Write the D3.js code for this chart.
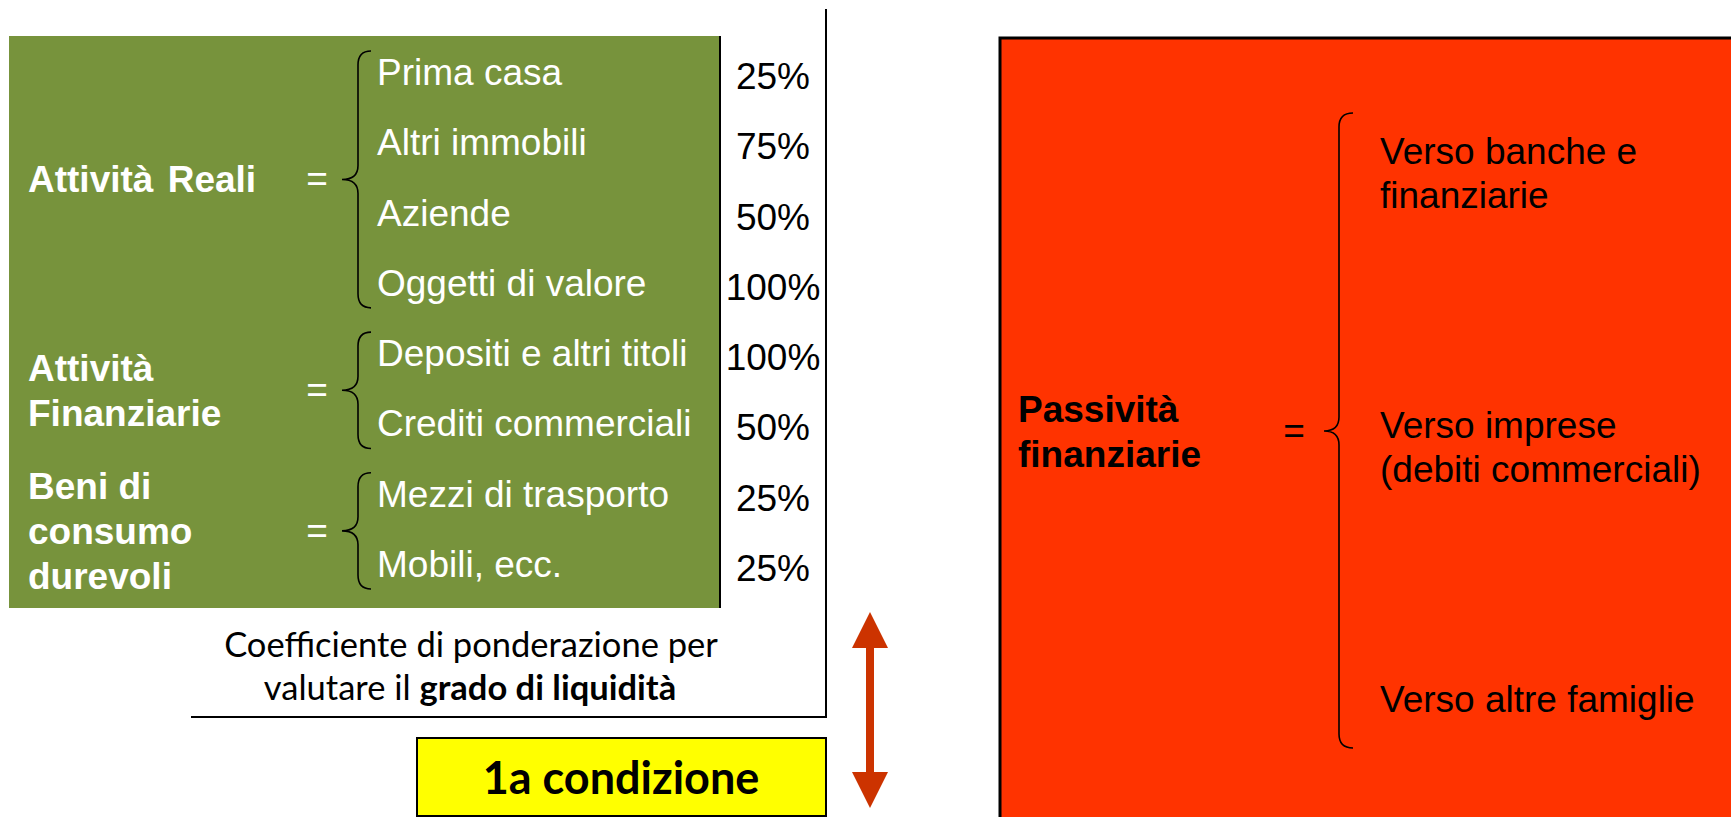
<!DOCTYPE html>
<html>
<head>
<meta charset="utf-8">
<script src="https://cdn.jsdelivr.net/npm/d3@7"></script>
<style>
	html, body { margin: 0; padding: 0; background: #fff; }
	svg { display: block; }
</style>
</head>
<body>
<svg id="chart" width="1731" height="817"></svg>
<script>
// voci dell'attivo e coefficienti di liquidità
var gruppi = [
	["Attività Reali"],
	["Attività", "Finanziarie"],
	["Beni di", "consumo", "durevoli"]
];
var voci = ["Prima casa", "Altri immobili", "Aziende", "Oggetti di valore",
	"Depositi e altri titoli", "Crediti commerciali",
	"Mezzi di trasporto", "Mobili, ecc."];
var gruppoVoce = [0, 0, 0, 0, 1, 1, 2, 2];
var coefficienti = [25, 75, 50, 100, 100, 50, 25, 25];

// passività
var passivita = ["Passività", "finanziarie"];
var vociPassivo = [
	["Verso banche e", "finanziarie"],
	["Verso imprese", "(debiti commerciali)"],
	["Verso altre famiglie"]
];

var nota1 = "Coefficiente di ponderazione per";
var nota2 = ["valutare il ", "grado di liquidità"];
var condizione = "1a condizione";

var svg = d3.select("#chart");
var arial = "'Liberation Sans', Arial, sans-serif";
var calibri = "Lato, 'Open Sans', sans-serif";

var y = d3.scalePoint().domain(voci).range([85, 577]);
var yP = d3.scalePoint().domain(d3.range(vociPassivo.length)).range([164, 712]);
var pct = d3.format(".0%");

function brace(x, y0, ym, y1, wTip, wMid) {
	var r = 14;
	var p = d3.path();
	p.moveTo(x + wTip, y0);
	p.quadraticCurveTo(x, y0, x, y0 + r);
	p.lineTo(x, ym - r);
	p.quadraticCurveTo(x, ym, x - wMid, ym);
	p.quadraticCurveTo(x, ym, x, ym + r);
	p.lineTo(x, y1 - r);
	p.quadraticCurveTo(x, y1, x + wTip, y1);
	return p.toString();
}

// riquadro verde
svg.append("rect")
	.attr("x", 9).attr("y", 36)
	.attr("width", 711).attr("height", 572)
	.attr("fill", "#77933C");
svg.append("line")
	.attr("x1", 720).attr("x2", 720).attr("y1", 36).attr("y2", 608)
	.attr("stroke", "#000").attr("stroke-width", 2);

// cornice dei coefficienti
svg.append("path")
	.attr("d", "M826,9 L826,717 L191,717")
	.attr("fill", "none").attr("stroke", "#000").attr("stroke-width", 2);

svg.append("g").selectAll("g")
	.data(gruppi)
	.enter()
	.append("g")
	.each(function(d, i) {
		var rows = voci.filter(function(v, j) { return gruppoVoce[j] == i; });
		var top = y(rows[0]) - 34;
		var bottom = y(rows[rows.length - 1]) + 12;
		var mid = (top + bottom) / 2;
		var g = d3.select(this);
		g.append("path")
			.attr("d", brace(358, top, mid, bottom, 13, 16))
			.attr("fill", "none").attr("stroke", "#000").attr("stroke-width", 1.6);
		g.append("text")
			.attr("x", 317).attr("y", mid + 12)
			.attr("text-anchor", "middle")
			.attr("fill", "#fff")
			.style("font", "37px " + arial)
			.text("=");
		var first = mid + 13 - (d.length - 1) * 45 / 2;
		g.append("text")
			.attr("fill", "#fff")
			.style("font", "bold 37px " + arial)
			.style("word-spacing", d.length == 1 ? "4px" : "0px")
			.selectAll("tspan")
			.data(d)
			.enter()
			.append("tspan")
			.attr("x", 28)
			.attr("y", function(t, k) { return first + k * 45; })
			.text(function(t) { return t; });
	});

svg.append("g").selectAll("text")
	.data(voci)
	.enter()
	.append("text")
	.attr("x", 377)
	.attr("y", function(d) { return y(d); })
	.attr("fill", "#fff")
	.style("font", "37px " + arial)
	.text(function(d) { return d; });

svg.append("g").selectAll("text")
	.data(coefficienti)
	.enter()
	.append("text")
	.attr("x", 773)
	.attr("y", function(d, i) { return y(voci[i]) + 4; })
	.attr("text-anchor", "middle")
	.attr("fill", "#000")
	.style("font", "37px " + arial)
	.text(function(d) { return pct(d / 100); });

// nota
svg.append("text")
	.attr("x", 471).attr("y", 657)
	.attr("text-anchor", "middle")
	.style("font", "34.5px " + calibri)
	.text(nota1);
svg.append("text")
	.attr("x", 470).attr("y", 700)
	.attr("text-anchor", "middle")
	.style("font", "34.5px " + calibri)
	.selectAll("tspan")
	.data(nota2)
	.enter()
	.append("tspan")
	.attr("xml:space", "preserve")
	.style("font-weight", function(d, i) { return i ? "bold" : "normal"; })
	.text(function(d) { return d; });

// riquadro giallo
svg.append("rect")
	.attr("x", 417).attr("y", 738)
	.attr("width", 409).attr("height", 78)
	.attr("fill", "#FFFF00").attr("stroke", "#000").attr("stroke-width", 2);
svg.append("text")
	.attr("x", 621).attr("y", 794)
	.attr("text-anchor", "middle")
	.style("font", "bold 45px " + calibri)
	.text(condizione);

// freccia doppia
svg.append("path")
	.attr("d", "M870,612 L888,648 L874,648 L874,772 L888,772 L870,808 L852,772 L866,772 L866,648 L852,648 Z")
	.attr("fill", "#CC3300");

// riquadro rosso
svg.append("rect")
	.attr("x", 1000).attr("y", 38)
	.attr("width", 760).attr("height", 800)
	.attr("fill", "#FF3300").attr("stroke", "#000").attr("stroke-width", 3);

svg.append("path")
	.attr("d", brace(1339, 113, 431, 748, 14, 15))
	.attr("fill", "none").attr("stroke", "#000").attr("stroke-width", 1.6);
svg.append("text")
	.attr("x", 1294).attr("y", 443)
	.attr("text-anchor", "middle")
	.style("font", "37px " + arial)
	.text("=");
svg.append("text")
	.style("font", "bold 37px " + arial)
	.selectAll("tspan")
	.data(passivita)
	.enter()
	.append("tspan")
	.attr("x", 1018)
	.attr("y", function(d, i) { return 422 + i * 45; })
	.text(function(d) { return d; });

svg.append("g").selectAll("text")
	.data(vociPassivo)
	.enter()
	.append("text")
	.style("font", "37px " + arial)
	.each(function(d, i) {
		d3.select(this).selectAll("tspan")
			.data(d)
			.enter()
			.append("tspan")
			.attr("x", 1380)
			.attr("y", function(t, k) { return yP(i) + k * 44; })
			.text(function(t) { return t; });
	});
</script>
</body>
</html>
